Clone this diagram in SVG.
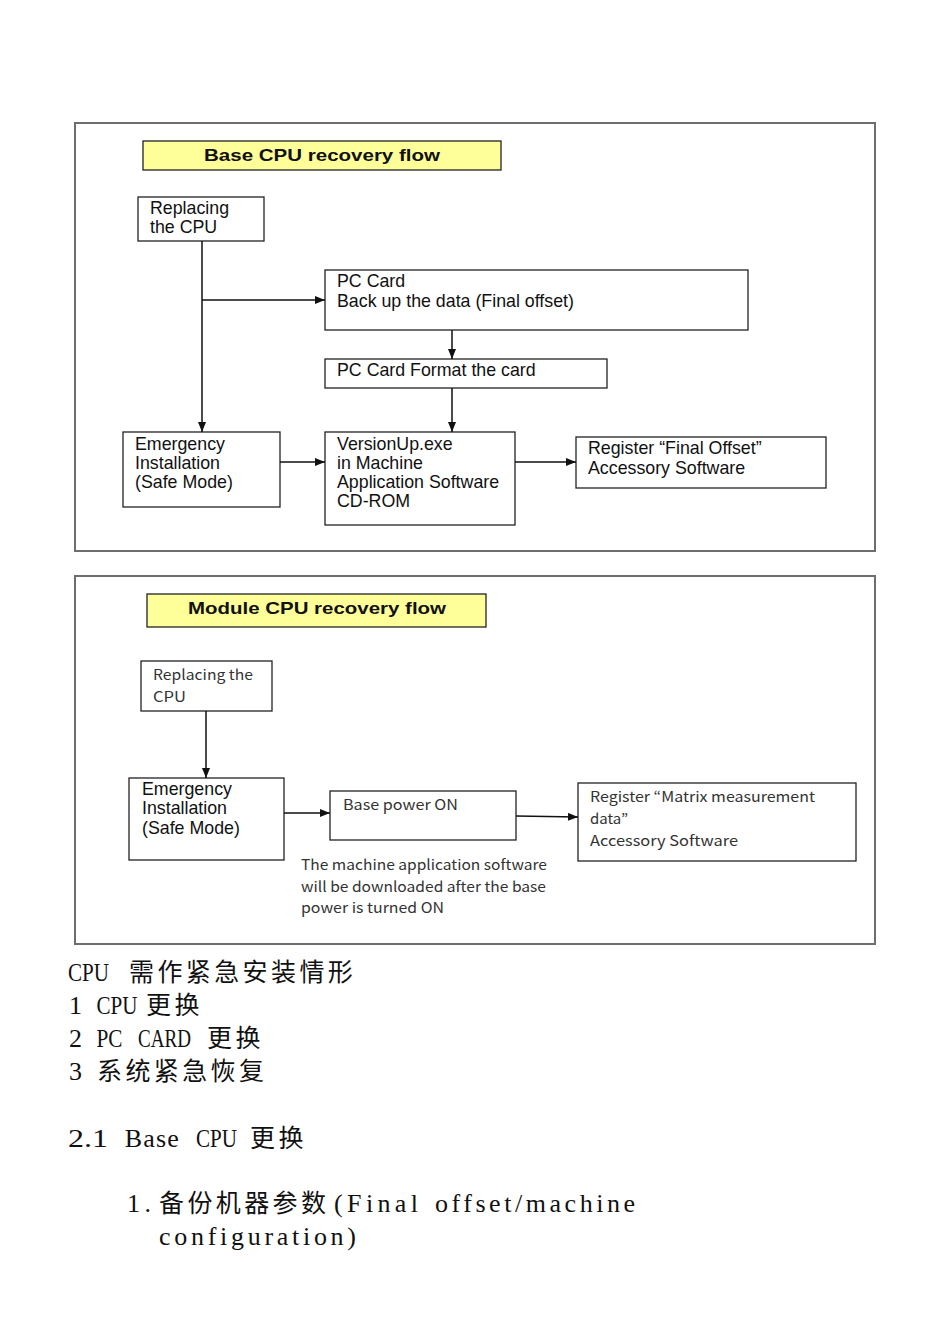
<svg xmlns="http://www.w3.org/2000/svg" width="950" height="1344" viewBox="0 0 950 1344">
<style>
.frame{fill:#fff;stroke:#6e6e6e;stroke-width:2}
.title{fill:#ffff99;stroke:#222;stroke-width:1.3}
.box{fill:#fff;stroke:#222;stroke-width:1.3}
.t{font-family:"Liberation Sans",Arial,sans-serif;font-size:17.8px;fill:#111}
.tb{font-family:"Liberation Sans",Arial,sans-serif;font-size:16.5px;font-weight:bold;fill:#111}
.g{font-family:"Noto Sans CJK JP","Noto Sans",sans-serif;font-size:14.5px;fill:#333}
.c{stroke:#111;stroke-width:1.5;fill:none}
.m{font-family:"Liberation Serif","Times New Roman",serif;font-size:26px;fill:#111}
.k{font-family:"Noto Sans CJK SC","Noto Sans CJK JP",sans-serif;font-size:25px;letter-spacing:3.4px;fill:#111}
</style>
<defs>
<marker id="ah" viewBox="0 0 10 8" refX="10" refY="4" markerWidth="10" markerHeight="8" markerUnits="userSpaceOnUse" orient="auto">
<path d="M0,0 L10,4 L0,8 Z" fill="#111"/>
</marker>
</defs>
<rect width="950" height="1344" fill="#fff"/>

<!-- Base CPU frame -->
<rect class="frame" x="75" y="123" width="800" height="428"/>
<g id="base-title">
<rect class="title" x="143" y="141" width="358" height="29"/>
<text class="tb" x="204" y="161" textLength="236" lengthAdjust="spacingAndGlyphs">Base CPU recovery flow</text>
</g>
<g id="b-replace">
<rect class="box" x="138" y="197" width="126" height="44"/>
<text class="t" x="150" y="214">Replacing</text>
<text class="t" x="150" y="233">the CPU</text>
</g>
<g id="b-backup">
<rect class="box" x="325" y="270" width="423" height="60"/>
<text class="t" x="337" y="287">PC Card</text>
<text class="t" x="337" y="307">Back up the data (Final offset)</text>
</g>
<g id="b-format">
<rect class="box" x="325" y="359" width="282" height="29"/>
<text class="t" x="337" y="376">PC Card Format the card</text>
</g>
<g id="b-emergency">
<rect class="box" x="123" y="432" width="157" height="75"/>
<text class="t" x="135" y="450">Emergency</text>
<text class="t" x="135" y="469">Installation</text>
<text class="t" x="135" y="488">(Safe Mode)</text>
</g>
<g id="b-versionup">
<rect class="box" x="325" y="432" width="190" height="93"/>
<text class="t" x="337" y="450">VersionUp.exe</text>
<text class="t" x="337" y="469">in Machine</text>
<text class="t" x="337" y="488">Application Software</text>
<text class="t" x="337" y="507">CD-ROM</text>
</g>
<g id="b-register">
<rect class="box" x="576" y="437" width="250" height="51"/>
<text class="t" x="588" y="454">Register “Final Offset”</text>
<text class="t" x="588" y="474">Accessory Software</text>
</g>

<!-- Module CPU frame -->
<rect class="frame" x="75" y="576" width="800" height="368"/>
<g id="module-title">
<rect class="title" x="147" y="594" width="339" height="33"/>
<text class="tb" x="188" y="614" textLength="258" lengthAdjust="spacingAndGlyphs">Module CPU recovery flow</text>
</g>
<g id="m-replace">
<rect class="box" x="141" y="661" width="131" height="50"/>
<text class="g" x="153" y="680" textLength="100" lengthAdjust="spacingAndGlyphs">Replacing the</text>
<text class="g" x="153" y="702" textLength="33" lengthAdjust="spacingAndGlyphs">CPU</text>
</g>
<g id="m-emergency">
<rect class="box" x="129" y="778" width="155" height="82"/>
<text class="t" x="142" y="795">Emergency</text>
<text class="t" x="142" y="814">Installation</text>
<text class="t" x="142" y="834">(Safe Mode)</text>
</g>
<g id="m-power">
<rect class="box" x="330" y="791" width="186" height="49"/>
<text class="g" x="343" y="810" textLength="115" lengthAdjust="spacingAndGlyphs">Base power ON</text>
</g>
<g id="m-register">
<rect class="box" x="578" y="783" width="278" height="78"/>
<text class="g" x="590" y="802" textLength="225" lengthAdjust="spacingAndGlyphs">Register “Matrix measurement</text>
<text class="g" x="590" y="824" textLength="38" lengthAdjust="spacingAndGlyphs">data”</text>
<text class="g" x="590" y="846" textLength="148" lengthAdjust="spacingAndGlyphs">Accessory Software</text>
</g>
<g id="m-note">
<text class="g" x="301" y="870" textLength="246" lengthAdjust="spacingAndGlyphs">The machine application software</text>
<text class="g" x="301" y="892" textLength="245" lengthAdjust="spacingAndGlyphs">will be downloaded after the base</text>
<text class="g" x="301" y="913" textLength="143" lengthAdjust="spacingAndGlyphs">power is turned ON</text>
</g>

<g id="connectors">
<line class="c" x1="202" y1="241" x2="202" y2="432" marker-end="url(#ah)"/>
<line class="c" x1="202" y1="300" x2="325" y2="300" marker-end="url(#ah)"/>
<line class="c" x1="452" y1="330" x2="452" y2="359" marker-end="url(#ah)"/>
<line class="c" x1="452" y1="388" x2="452" y2="432" marker-end="url(#ah)"/>
<line class="c" x1="280" y1="462" x2="325" y2="462" marker-end="url(#ah)"/>
<line class="c" x1="515" y1="462" x2="576" y2="462" marker-end="url(#ah)"/>
<line class="c" x1="206" y1="711" x2="206" y2="778" marker-end="url(#ah)"/>
<line class="c" x1="284" y1="813" x2="330" y2="813" marker-end="url(#ah)"/>
<line class="c" x1="516" y1="816" x2="578" y2="817" marker-end="url(#ah)"/>
</g>

<!-- Body text -->
<g id="body-text">
<text class="m" x="68" y="981" textLength="41" lengthAdjust="spacingAndGlyphs">CPU</text>
<text class="m" x="69" y="1014">1</text>
<text class="m" x="96.4" y="1014" textLength="41" lengthAdjust="spacingAndGlyphs">CPU</text>
<text class="m" x="69" y="1047">2</text>
<text class="m" x="96.4" y="1047" textLength="26" lengthAdjust="spacingAndGlyphs">PC</text>
<text class="m" x="138" y="1047" textLength="53" lengthAdjust="spacingAndGlyphs">CARD</text>
<text class="m" x="69" y="1080">3</text>
<text class="m" x="68" y="1147" textLength="40" lengthAdjust="spacingAndGlyphs">2.1</text>
<text class="m" x="124.8" y="1147" textLength="54" lengthAdjust="spacing">Base</text>
<text class="m" x="196" y="1147" textLength="41" lengthAdjust="spacingAndGlyphs">CPU</text>
<text class="m" x="127" y="1212" textLength="24" lengthAdjust="spacing">1.</text>
<text class="m" x="334" y="1212" textLength="84" lengthAdjust="spacing">(Final</text>
<text class="m" x="435" y="1212" textLength="200" lengthAdjust="spacing">offset/machine</text>
<text class="m" x="159" y="1245" textLength="197" lengthAdjust="spacing">configuration)</text>
<text class="k" x="129" y="981">需作紧急安装情形</text>
<text class="k" x="146" y="1014">更换</text>
<text class="k" x="207" y="1047">更换</text>
<text class="k" x="97" y="1080">系统紧急恢复</text>
<text class="k" x="250" y="1147">更换</text>
<text class="k" x="159" y="1212">备份机器参数</text>
</g>
</svg>
